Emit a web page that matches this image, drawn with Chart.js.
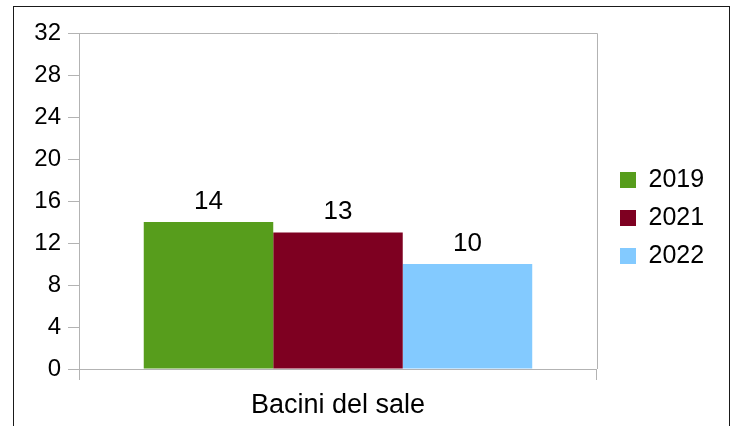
<!DOCTYPE html>
<html>
<head>
<meta charset="utf-8">
<script src="https://cdn.jsdelivr.net/npm/chart.js@4/dist/chart.umd.min.js"></script>
<style>
  html, body { margin: 0; padding: 0; background: #fff; }
  canvas { display: block; }
</style>
</head>
<body>
<canvas id="saleChart" width="736" height="426"></canvas>
<script>
const categories = ['Bacini del sale'];
const seriesNames = ['2019', '2021', '2022'];
const values2019 = [14];
const values2021 = [13];
const values2022 = [10];
const seriesColors = ['#579d1c', '#7e0021', '#83caff'];
const yTicks = [0, 4, 8, 12, 16, 20, 24, 28, 32];

const axisGray = '#b3b3b3';
const fontName = '"Liberation Sans", Arial, sans-serif';

// frame around the whole picture + top/right edge of the plot box
const framePlugin = {
    id: 'frame',
    beforeDraw(chart) {
        const ctx = chart.ctx;
        ctx.save();
        ctx.fillStyle = '#fff';
        ctx.fillRect(0, 0, chart.width, chart.height);
        ctx.strokeStyle = '#1a1a1a';
        ctx.lineWidth = 1;
        ctx.strokeRect(13.5, 6.5, 716, 460);
        ctx.restore();
    },
    afterDraw(chart) {
        const {ctx, chartArea} = chart;
        ctx.save();
        ctx.strokeStyle = axisGray;
        ctx.lineWidth = 1;
        ctx.beginPath();
        ctx.moveTo(chartArea.left, chartArea.top + 0.5);
        ctx.lineTo(chartArea.right + 0.5, chartArea.top + 0.5);
        ctx.lineTo(chartArea.right + 0.5, chartArea.bottom);
        ctx.stroke();
        ctx.restore();
    }
};

// value labels above the bars
const valueLabels = {
    id: 'valueLabels',
    afterDatasetsDraw(chart) {
        const ctx = chart.ctx;
        ctx.save();
        ctx.font = '26px ' + fontName;
        ctx.fillStyle = '#000';
        ctx.textAlign = 'center';
        ctx.textBaseline = 'alphabetic';
        chart.data.datasets.forEach((ds, i) => {
            chart.getDatasetMeta(i).data.forEach((bar, j) => {
                ctx.fillText(String(ds.data[j]), bar.x, bar.y - 13.5);
            });
        });
        ctx.restore();
    }
};

new Chart(document.getElementById('saleChart'), {
    type: 'bar',
    data: {
        labels: categories,
        datasets: [
            { label: seriesNames[0], data: values2019, backgroundColor: seriesColors[0] },
            { label: seriesNames[1], data: values2021, backgroundColor: seriesColors[1] },
            { label: seriesNames[2], data: values2022, backgroundColor: seriesColors[2] }
        ]
    },
    options: {
        responsive: false,
        animation: false,
        devicePixelRatio: 1,
        categoryPercentage: 0.75,
        barPercentage: 1,
        borderWidth: 0,
        layout: {
            padding: { left: 0, top: 10, right: 21.9, bottom: 0 }
        },
        plugins: {
            tooltip: { enabled: false },
            legend: {
                position: 'right',
                labels: {
                    color: '#000',
                    font: { family: fontName, size: 25 },
                    boxWidth: 16,
                    boxHeight: 16,
                    padding: 13
                }
            }
        },
        scales: {
            x: {
                grid: { drawOnChartArea: false, tickLength: 11, color: axisGray, offset: true },
                border: { color: axisGray },
                ticks: { color: '#000', font: { family: fontName, size: 27 }, padding: 9 },
                afterFit(scale) { scale.height = 57; }
            },
            y: {
                min: yTicks[0],
                max: yTicks[yTicks.length - 1],
                grid: { drawOnChartArea: false, tickLength: 11, color: axisGray },
                border: { color: axisGray },
                ticks: {
                    stepSize: 2,
                    padding: 7,
                    color: '#000',
                    font: { family: fontName, size: 24 },
                    callback: (v) => yTicks.includes(v) ? v : ''
                },
                afterFit(scale) {
                    scale.width = 79;
                    scale.paddingTop = 33; // plot box starts lower than the legend band
                }
            },
            // empty spacer between plot box and legend
            gap: {
                position: 'right',
                grid: { display: false },
                border: { display: false },
                ticks: { display: false },
                afterFit(scale) { scale.width = 10; }
            }
        }
    },
    plugins: [framePlugin, valueLabels]
});
</script>
</body>
</html>
